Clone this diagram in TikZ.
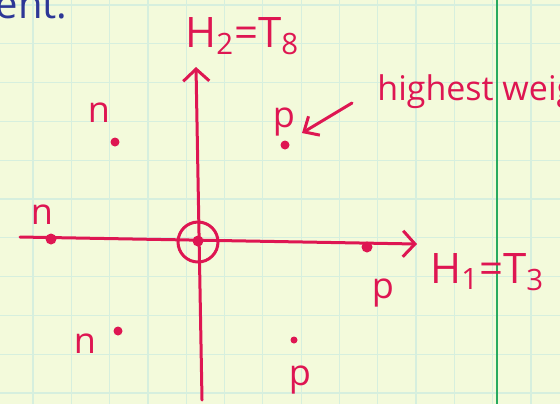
\documentclass[tikz,border=0pt]{standalone}
\usepackage{fontspec}
\setmainfont{Open Sans}
\usetikzlibrary{arrows.meta}
\definecolor{paper}{RGB}{243,250,219}
\definecolor{gridc}{RGB}{214,239,222}
\definecolor{marg}{RGB}{40,170,95}
\definecolor{ink}{RGB}{222,22,82}
\definecolor{blueink}{RGB}{45,55,150}
\tikzset{
  axisline/.style={draw=ink,line width=1.5pt,line cap=round,-{Straight Barb[length=6pt,width=13pt,line width=1.5pt]}},
  wdot/.style={circle,fill=ink,inner sep=0pt,minimum size=4.5pt},
  bigdot/.style={circle,fill=ink,inner sep=0pt,minimum size=5.5pt},
  lab/.style={text=ink,font=\fontsize{18}{20}\selectfont,inner sep=0pt},
  axlab/.style={text=ink,font=\fontsize{21}{23}\selectfont,inner sep=0pt},
  hwlab/.style={text=ink,font=\fontsize{17}{19}\selectfont,inner sep=0pt},
}
\begin{document}
\begin{tikzpicture}[x=0.5pt,y=-0.5pt]
\useasboundingbox (0,0) rectangle (560,404);
\clip (0,0) rectangle (560,404);
\fill[paper] (0,0) rectangle (560,404);
% grid
\foreach \i in {0,...,13} \draw[gridc,line width=0.6pt] ({33+38.3*\i},0) -- ++(0,404);
\foreach \j in {0,...,10} \draw[gridc,line width=0.6pt] (0,{5+38.8*\j}) -- ++(560,0);
% margin line
\draw[marg,line width=1pt] (497,0) -- (497,404);
% blue text fragment
\node[text=blueink,font=\fontsize{20}{22}\selectfont,anchor=base east,inner sep=0pt] (prev) at (68,18) {ment.};
% axes
\coordinate (xl) at (20,237);
\coordinate (xr) at (417,244);
\coordinate (yb) at (202,400);
\coordinate (yt) at (196,67);
\draw[axisline] (xl) -- (xr);
\draw[axisline] (yb) -- (yt);
% origin
\node[draw=ink,line width=1.5pt,circle,minimum size=20pt,inner sep=0pt] (orig) at (198,242) {};
\node[bigdot] (o) at (198,241) {};
% weights
\node[wdot] (n1) at (115,142) {};
\node[wdot] (p1) at (285,145) {};
\node[bigdot] (n2) at (51,239) {};
\node[bigdot] (p2) at (367,247) {};
\node[wdot] (n3) at (118,331) {};
\node[wdot,minimum size=3.5pt] (p3) at (294,340) {};
% labels
\node[lab] (ln1) at (99,113) {n};
\node[lab] (lp1) at (284,122) {p};
\node[lab] (ln2) at (42,215) {n};
\node[lab] (lp2) at (383,293) {p};
\node[lab] (ln3) at (85,344) {n};
\node[lab] (lp3) at (300,380) {p};
% axis labels
\node[axlab,anchor=base west] (h2) at (185,47) {H\textsubscript{2}=T\textsubscript{8}};
\node[axlab,anchor=base west] (h1) at (430,283) {H\textsubscript{1}=T\textsubscript{3}};
% highest weight
\node[hwlab,anchor=base west] (hw) at (377,100) {highest weight};
\coordinate (hwa) at (352,103);
\coordinate (hwb) at (302,133);
\draw[axisline,-{Straight Barb[length=6pt,width=11pt,line width=1.5pt]}] (hwa) -- (hwb);
\end{tikzpicture}
\end{document}
